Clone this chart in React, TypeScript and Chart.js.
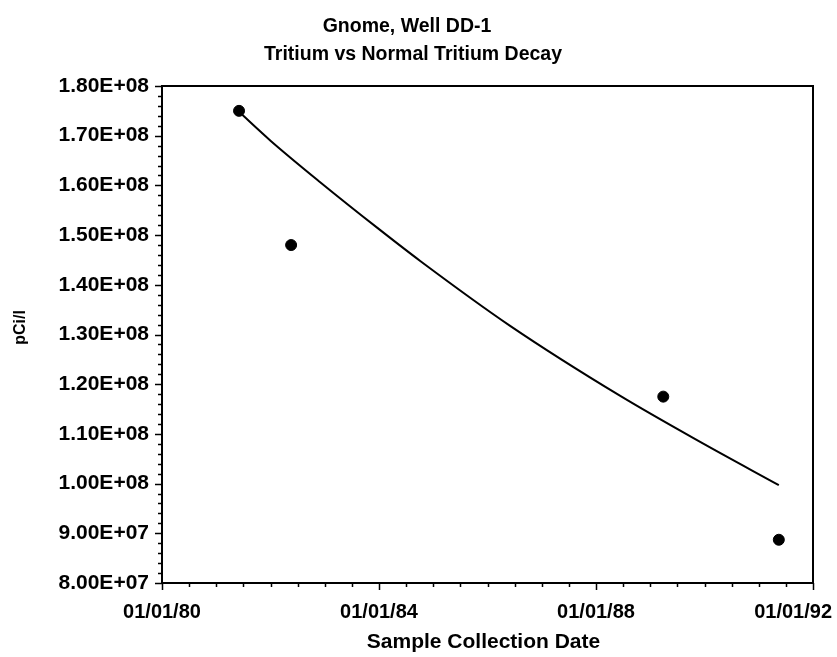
import React, { useEffect, useRef } from "react";
import { Chart, registerables } from "chart.js";

Chart.register(...registerables);

// Measured samples (decimal year, pCi/l)
const sampleDates = [1981.42, 1982.38, 1989.24, 1991.37];
const tritiumValues = [1.75e8, 1.48e8, 1.175e8, 0.887e8];

// Normal decay curve
const curveDates = [1981.42, 1982.0, 1982.91, 1984.0, 1984.76, 1986.41, 1988.44, 1989.92, 1991.37];
const curveValues = [1.748e8, 1.69e8, 1.607e8, 1.512e8, 1.448e8, 1.318e8, 1.177e8, 1.084e8, 0.997e8];

const titleLines = ["Gnome, Well DD-1", "Tritium vs Normal Tritium Decay"];
const xAxisTitle = "Sample Collection Date";
const yAxisTitle = "pCi/l";

const xMin = 1980;
const xMax = 1992;
const xStep = 4;
const xMinorStep = 0.5;
const yMin = 8e7;
const yMax = 1.8e8;
const yStep = 1e7;
const yMinorStep = 2e6;

const FONT = '"Liberation Sans", Arial, Helvetica, sans-serif';

function fmtY(v: number): string {
  if (v === 0) return "0.00E+00";
  const e = Math.floor(Math.log10(Math.abs(v)) + 1e-9);
  const m = v / Math.pow(10, e);
  return `${m.toFixed(2)}E+${String(e).padStart(2, "0")}`;
}

function fmtX(v: number): string {
  const yy = String(Math.round(v) % 100).padStart(2, "0");
  return `01/01/${yy}`;
}

const framePlugin = {
  id: "framePlugin",
  afterDraw(chart: any) {
    const { ctx, chartArea } = chart;
    const xs = chart.scales.x;
    const ys = chart.scales.y;
    const { left, right, top, bottom } = chartArea;
    ctx.save();
    ctx.strokeStyle = "#000";
    ctx.fillStyle = "#000";
    // frame
    ctx.lineWidth = 2;
    ctx.strokeRect(left, top, right - left, bottom - top);
    // y ticks
    ctx.lineWidth = 1.5;
    ctx.beginPath();
    for (let v = yMin; v <= yMax + 1; v += yMinorStep) {
      const py = Math.round(ys.getPixelForValue(v)) + 0.5;
      const isMajor = Math.abs(((v - yMin) / yStep) - Math.round((v - yMin) / yStep)) < 1e-6;
      const len = isMajor ? 7 : 4;
      ctx.moveTo(left, py);
      ctx.lineTo(left - len, py);
    }
    // x ticks
    for (let v = xMin; v <= xMax + 1e-9; v += xMinorStep) {
      const px = Math.round(xs.getPixelForValue(v)) + 0.5;
      const isMajor = Math.abs(((v - xMin) / xStep) - Math.round((v - xMin) / xStep)) < 1e-6;
      const len = isMajor ? 7 : 4;
      ctx.moveTo(px, bottom);
      ctx.lineTo(px, bottom + len);
    }
    ctx.stroke();

    // x tick labels
    ctx.font = `bold 20px ${FONT}`;
    ctx.textBaseline = "alphabetic";
    ctx.textAlign = "left";
    const W = chart.width;
    for (let v = xMin; v <= xMax + 1e-9; v += xStep) {
      const label = fmtX(v);
      const w = ctx.measureText(label).width;
      let x0 = xs.getPixelForValue(v) - w / 2;
      if (x0 + w > W - 5) x0 = W - 5 - w;
      ctx.fillText(label, x0, bottom + 35);
    }

    // x axis title
    ctx.font = `bold 21px ${FONT}`;
    ctx.textAlign = "center";
    ctx.fillText(xAxisTitle, (left + right) / 2 - 4, bottom + 65);

    // y axis title
    ctx.save();
    ctx.font = `bold 16px ${FONT}`;
    ctx.translate(25, (top + bottom) / 2 - 7);
    ctx.rotate(-Math.PI / 2);
    ctx.textAlign = "center";
    ctx.fillText(yAxisTitle, 0, 0);
    ctx.restore();

    // main title
    ctx.font = `bold 19.5px ${FONT}`;
    ctx.textAlign = "center";
    ctx.fillText(titleLines[0], 407, 32);
    ctx.fillText(titleLines[1], 413, 60);
    ctx.restore();
  },
};

export default function App() {
  const ref = useRef<HTMLCanvasElement | null>(null);
  useEffect(() => {
    if (!ref.current) return;
    const points = sampleDates.map((d, i) => ({ x: d, y: tritiumValues[i] }));
    const curve = curveDates.map((d, i) => ({ x: d, y: curveValues[i] }));
    const chart = new Chart(ref.current, {
      type: "scatter",
      data: {
        datasets: [
          {
            label: "Tritium",
            data: points,
            backgroundColor: "#000",
            borderColor: "#000",
            pointRadius: 5.5,
            pointHoverRadius: 5.5,
            showLine: false,
          },
          {
            type: "line",
            label: "Normal Tritium Decay",
            data: curve,
            borderColor: "#000",
            borderWidth: 2,
            pointRadius: 0,
            fill: false,
            cubicInterpolationMode: "monotone",
          } as any,
        ],
      },
      options: {
        responsive: false,
        animation: false,
        events: [],
        layout: { padding: { top: 86, right: 24, left: 0, bottom: 0 } },
        plugins: {
          legend: { display: false },
          title: { display: false },
          tooltip: { enabled: false },
        },
        scales: {
          x: {
            type: "linear",
            min: xMin,
            max: xMax,
            grid: { display: false },
            border: { display: false },
            ticks: { display: false, stepSize: xStep },
            afterFit: (s: any) => {
              s.height = 74;
              s.paddingLeft = 0;
              s.paddingRight = 0;
            },
          },
          y: {
            type: "linear",
            min: yMin,
            max: yMax,
            grid: { display: false },
            border: { display: false },
            ticks: {
              stepSize: yStep,
              padding: 5,
              color: "#000",
              font: { family: FONT, size: 21, weight: "bold" },
              callback: (v: any) => fmtY(Number(v)),
            },
            afterFit: (s: any) => {
              s.width = 162;
              s.paddingTop = 0;
              s.paddingBottom = 0;
            },
          },
        },
      },
      plugins: [framePlugin],
    });
    return () => chart.destroy();
  }, []);
  return (
    <div style={{ position: "fixed", left: 0, top: 0, width: 837, height: 657, background: "#fff" }}>
      <canvas ref={ref} width={837} height={657} style={{ width: 837, height: 657 }} />
    </div>
  );
}
